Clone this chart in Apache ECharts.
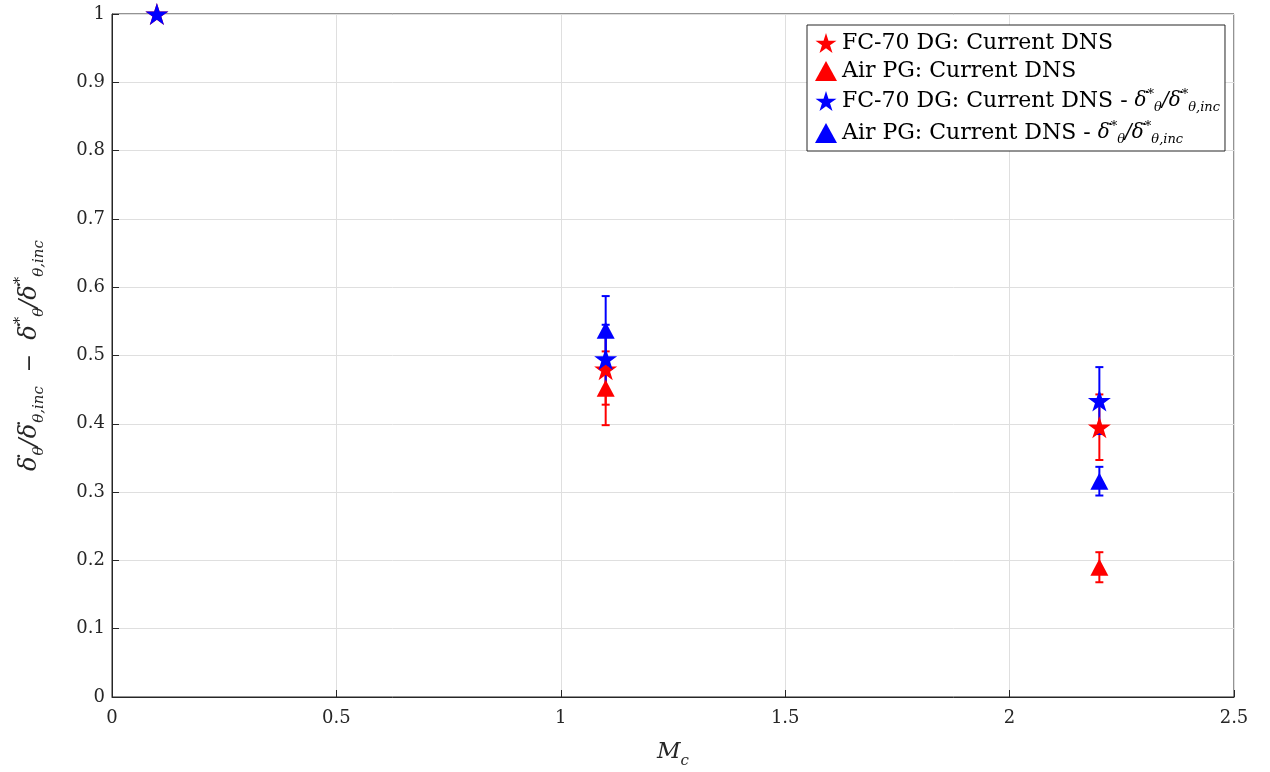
<!DOCTYPE html>
<html>
<head>
<meta charset="utf-8">
<script src="https://cdn.jsdelivr.net/npm/echarts@6/dist/echarts.min.js"></script>
<style>html,body{margin:0;padding:0;background:#fff}#c{width:1270px;height:772px}</style>
</head>
<body>
<div id="c"></div>
<script>
// ---- data ----
var fcRedX = [0.1, 1.1, 2.2];
var fcRedY = [1.0, 0.480, 0.395];
var fcRedErr = [0, 0.052, 0.048];

var airRedX = [1.1, 2.2];
var airRedY = [0.452, 0.190];
var airRedErr = [0.054, 0.022];

var fcBlueX = [0.1, 1.1, 2.2];
var fcBlueY = [1.0, 0.495, 0.434];
var fcBlueErr = [0, 0.050, 0.049];

var airBlueX = [1.1, 2.2];
var airBlueY = [0.537, 0.316];
var airBlueErr = [0.050, 0.021];

var xTicks = [0, 0.5, 1, 1.5, 2, 2.5];
var yTicks = [0, 0.1, 0.2, 0.3, 0.4, 0.5, 0.6, 0.7, 0.8, 0.9, 1];

var seriesNames = ['FC-70 DG: Current DNS', 'Air PG: Current DNS',
  'FC-70 DG: Current DNS - ratio', 'Air PG: Current DNS - ratio'];

// ---- styling ----
var STAR = 'path://M50 0 L61.23 34.55 L97.55 34.55 L68.16 55.9 L79.39 90.45 L50 69.1 L20.61 90.45 L31.84 55.9 L2.45 34.55 L38.77 34.55 Z';
var RED = '#ff0000', BLUE = '#0000ff';
var FONT = '"DejaVu Serif", "Liberation Serif", serif';

function pts(xs, ys, es) {
  return xs.map(function (x, i) { return [x, ys[i], es[i]]; });
}

function errSeries(name, data, color) {
  return {
    type: 'custom', name: name + ' err', data: data, silent: true, clip: false,
    z: 2,
    renderItem: function (params, api) {
      var x = api.value(0), y = api.value(1), e = api.value(2);
      if (!e) return null;
      var top = api.coord([x, y + e]);
      var bot = api.coord([x, y - e]);
      var w = 4;
      var st = { stroke: color, lineWidth: 2 };
      return {
        type: 'group', children: [
          { type: 'line', shape: { x1: top[0], y1: top[1], x2: bot[0], y2: bot[1] }, style: st },
          { type: 'line', shape: { x1: top[0] - w, y1: top[1], x2: top[0] + w, y2: top[1] }, style: st },
          { type: 'line', shape: { x1: bot[0] - w, y1: bot[1], x2: bot[0] + w, y2: bot[1] }, style: st }
        ]
      };
    }
  };
}

function scat(name, data, color, symbol, size, z) {
  return {
    type: 'scatter', name: name, data: data, symbol: symbol, symbolSize: size,
    itemStyle: { color: color, opacity: 1 }, clip: false, z: z,
    emphasis: { disabled: true }
  };
}

// rich-text style set builder (dotted delta = delta followed by a narrow right-aligned dot)
function richSet(base, big, small, color, lh) {
  return {
    t: { fontFamily: FONT, fontSize: base, color: color, lineHeight: lh },
    m: { fontFamily: FONT, fontSize: big, fontStyle: 'italic', color: color, lineHeight: lh },
    d: { fontFamily: FONT, fontSize: big, color: color, lineHeight: lh, width: 1, align: 'right' },
    sup: { fontFamily: FONT, fontSize: small, color: color, verticalAlign: 'top', lineHeight: lh },
    sub: { fontFamily: FONT, fontSize: small, fontStyle: 'italic', color: color, verticalAlign: 'bottom', lineHeight: lh }
  };
}
var DD = '{m|δ}{d|˙}';
var ratioTxt = DD + '{sup|*}{sub|θ}{m|/}' + DD + '{sup|*}{sub|θ,inc}';

var chart = echarts.init(document.getElementById('c'));
chart.setOption({
  animation: false,
  backgroundColor: '#fff',
  grid: { left: 112, right: 36, top: 14, bottom: 75, outerBoundsMode: 'none', containLabel: false,
    show: true, borderColor: '#262626', borderWidth: 1, backgroundColor: '#fff' },
  legend: {
    left: 807, top: 25, orient: 'vertical', itemGap: 6,
    padding: [7, 5, 5, 8],
    borderColor: '#262626', borderWidth: 1, backgroundColor: '#fff',
    itemWidth: 22, itemHeight: 20,
    data: [
      { name: seriesNames[0], icon: STAR, itemStyle: { color: RED } },
      { name: seriesNames[1], icon: 'triangle', itemStyle: { color: RED } },
      { name: seriesNames[2], icon: STAR, itemStyle: { color: BLUE } },
      { name: seriesNames[3], icon: 'triangle', itemStyle: { color: BLUE } }
    ],
    selectedMode: false,
    textStyle: { fontFamily: FONT, fontSize: 22, color: '#000',
      rich: richSet(22, 20, 13, '#000', 26) },
    formatter: function (n) {
      if (n === seriesNames[2]) return '{t|FC-70 DG: Current DNS - }' + ratioTxt;
      if (n === seriesNames[3]) return '{t|Air PG: Current DNS - }' + ratioTxt;
      return '{t|' + n + '}';
    }
  },
  xAxis: {
    type: 'value', min: xTicks[0], max: xTicks[xTicks.length - 1], interval: 0.5,
    name: '{i|M}{s|c}', nameLocation: 'middle', nameGap: 38,
    nameTextStyle: { rich: {
      i: { fontFamily: FONT, fontSize: 23, fontStyle: 'italic', color: '#262626', lineHeight: 34 },
      s: { fontFamily: FONT, fontSize: 15, fontStyle: 'italic', color: '#262626', verticalAlign: 'bottom', lineHeight: 34 }
    } },
    axisLine: { show: true, lineStyle: { color: '#262626', width: 1 } },
    axisTick: { show: true, inside: true, length: 7, lineStyle: { color: '#262626' } },
    axisLabel: { fontFamily: FONT, fontSize: 18, color: '#262626', margin: 12,
      formatter: function (v) { return String(+v.toFixed(1)); } },
    splitLine: { show: true, lineStyle: { color: '#dfdfdf', width: 1 } }
  },
  yAxis: {
    type: 'value', min: yTicks[0], max: yTicks[yTicks.length - 1], interval: 0.1,
    name: DD + '{sub|θ}{m|/}' + DD + '{sub|θ,inc}{t|  −  }' + ratioTxt,
    nameLocation: 'middle', nameGap: 65, nameRotate: 90,
    nameTextStyle: { rich: richSet(22, 24, 15, '#262626', 34) },
    axisLine: { show: true, lineStyle: { color: '#262626', width: 1 } },
    axisTick: { show: true, inside: true, length: 7, lineStyle: { color: '#262626' } },
    axisLabel: { fontFamily: FONT, fontSize: 18, color: '#262626', margin: 7,
      formatter: function (v) { return String(+v.toFixed(1)); } },
    splitLine: { show: true, lineStyle: { color: '#dfdfdf', width: 1 } }
  },
  series: [
    errSeries(seriesNames[0], pts(fcRedX, fcRedY, fcRedErr), RED),
    scat(seriesNames[0], pts(fcRedX, fcRedY, fcRedErr), RED, STAR, [23, 22], 3),
    errSeries(seriesNames[1], pts(airRedX, airRedY, airRedErr), RED),
    scat(seriesNames[1], pts(airRedX, airRedY, airRedErr), RED, 'triangle', [18, 17], 4),
    errSeries(seriesNames[2], pts(fcBlueX, fcBlueY, fcBlueErr), BLUE),
    scat(seriesNames[2], pts(fcBlueX, fcBlueY, fcBlueErr), BLUE, STAR, [23, 22], 5),
    errSeries(seriesNames[3], pts(airBlueX, airBlueY, airBlueErr), BLUE),
    scat(seriesNames[3], pts(airBlueX, airBlueY, airBlueErr), BLUE, 'triangle', [18, 17], 6)
  ]
});
</script>
</body>
</html>
